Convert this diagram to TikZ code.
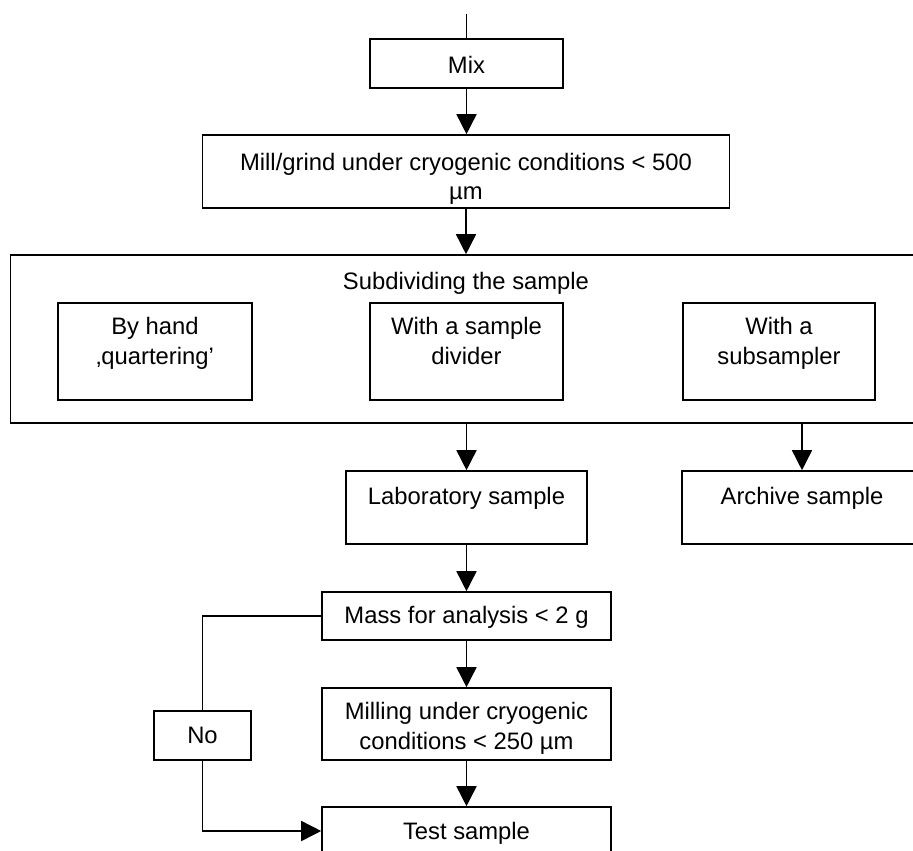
\documentclass[tikz,border=0pt]{standalone}
\usepackage{fontspec}
\setmainfont{Liberation Sans}
\usetikzlibrary{arrows.meta}
\tikzset{
  box/.style={draw, line width=1.6pt, rectangle, inner sep=0pt},
  txt/.style={anchor=base, inner sep=0pt, font=\fontsize{23.8}{29}\selectfont},
  conn/.style={line width=1.6pt},
  arr/.style={conn, -{Triangle[width=20pt,length=20pt]}}
}
\begin{document}
\begin{tikzpicture}[x=1pt,y=-1pt]
\path[use as bounding box] (0,0) rectangle (913,851);
\clip (0,0) rectangle (913,851);
% boxes
\node[box, minimum width=193, minimum height=49] (mix) at (466.5,63.5) {};
\node[box, minimum width=527, minimum height=73] (mill) at (466,171.5) {};
\node[box, minimum width=911, minimum height=168] (big) at (466,339) {};
\node[box, minimum width=194, minimum height=97] (hand) at (155,351.5) {};
\node[box, minimum width=193, minimum height=97] (divider) at (466.5,351.5) {};
\node[box, minimum width=192, minimum height=97] (subs) at (779,351.5) {};
\node[box, minimum width=241, minimum height=73] (lab) at (466.5,507.5) {};
\node[box, minimum width=240, minimum height=73] (arch) at (802,507.5) {};
\node[box, minimum width=289, minimum height=48] (mass) at (466.5,616) {};
\node[box, minimum width=289, minimum height=72] (milling) at (466.5,724) {};
\node[box, minimum width=97, minimum height=49] (no) at (202.5,735.5) {};
\node[box, minimum width=289, minimum height=48] (test) at (466.5,831) {};
% texts
\node[txt] (tmix) at (466.5,74) {Mix};
\node[txt] (tmill1) at (466,170) {Mill/grind under cryogenic conditions < 500};
\node[txt] (tmill2) at (466,199) {µm};
\node[txt] (tbig) at (466,289) {Subdividing the sample};
\node[txt] (thand1) at (155,334) {By hand};
\node[txt] (thand2) at (155,364) {‚quartering’};
\node[txt] (tdiv1) at (466.5,334) {With a sample};
\node[txt] (tdiv2) at (466.5,364) {divider};
\node[txt] (tsub1) at (779,334) {With a};
\node[txt] (tsub2) at (779,364) {subsampler};
\node[txt] (tlab) at (466.5,504) {Laboratory sample};
\node[txt] (tarch) at (802,504) {Archive sample};
\node[txt] (tmass) at (466.5,623) {Mass for analysis < 2 g};
\node[txt] (tmilling1) at (466.5,719) {Milling under cryogenic};
\node[txt] (tmilling2) at (466.5,749) {conditions < 250 µm};
\node[txt] (tno) at (202.5,743) {No};
\node[txt] (ttest) at (466.5,839) {Test sample};
% connectors
\coordinate (start) at (466.5,14);
\draw[conn] (start) -- (mix.north);
\draw[arr] (mix.south) -- (mix.south |- mill.north);
\draw[arr] (mill.south) -- (big.north);
\draw[arr] (big.south -| lab.north) -- (lab.north);
\draw[arr] (big.south -| arch.north) -- (arch.north);
\draw[arr] (lab.south) -- (mass.north);
\draw[arr] (mass.south) -- (milling.north);
\draw[arr] (milling.south) -- (test.north);
\draw[conn] (mass.west) -| (no.north);
\draw[arr] (no.south) |- (test.west);
\end{tikzpicture}
\end{document}
